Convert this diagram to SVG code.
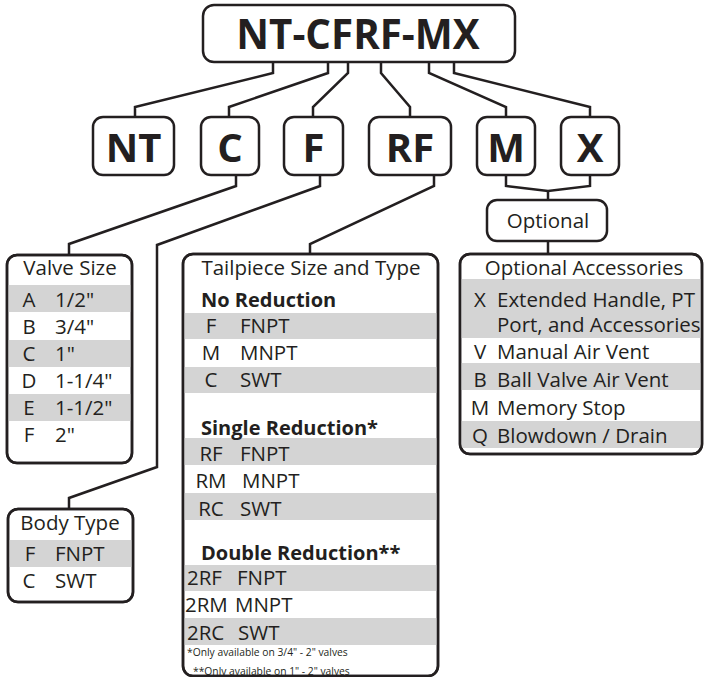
<svg xmlns="http://www.w3.org/2000/svg" width="704" height="677" viewBox="0 0 704 677">
<style>
.box{fill:#fff;stroke:#231f20;stroke-width:2.5}
.frame{fill:none;stroke:#231f20;stroke-width:2.5}
.con{fill:none;stroke:#231f20;stroke-width:2.5;stroke-linejoin:miter}
.sh{fill:#d4d4d4}
text{font-family:"Open Sans","Noto Sans","DejaVu Sans",sans-serif;fill:#231f20}
.big{font-size:40px;font-weight:700;text-anchor:middle}
.t{font-size:20.5px}
.b{font-size:20px;font-weight:700}
.m{text-anchor:middle}
.fn{font-size:10.3px}
</style>
<g id="connectors">
<polyline class="con" points="273,62 273,73 135,107 135,117"/>
<polyline class="con" points="328,62 328,73 229,107 229,117"/>
<polyline class="con" points="348,62 348,73 313,107 313,117"/>
<polyline class="con" points="381,62 381,73 410,107 410,117"/>
<polyline class="con" points="429,62 429,73 506,107 506,117"/>
<polyline class="con" points="454,62 454,73 590,107 590,117"/>
<polyline class="con" points="236,175 236,186 69,244 69,255"/>
<polyline class="con" points="320,175 320,186 157,245 157,467 69,498 69,509"/>
<polyline class="con" points="434,175 434,186 310,244 310,254"/>
<polyline class="con" points="506,175 506,186 548,191 590,186 590,175"/>
<polyline class="con" points="548,191 548,200"/>
<polyline class="con" points="548,241 548,254"/>
</g>
<g id="main">
<rect class="box" x="203" y="5" width="312" height="57" rx="11"/>
<text x="358" y="49" style="font-size:40.3px;font-weight:700;text-anchor:middle">NT-CFRF-MX</text>
</g>
<g id="nt"><rect class="box" x="93" y="117" width="81" height="58" rx="10"/><text class="big" x="133.5" y="162">NT</text></g>
<g id="c"><rect class="box" x="201" y="117" width="58" height="58" rx="10"/><text class="big" x="230" y="162">C</text></g>
<g id="f"><rect class="box" x="284" y="117" width="59" height="58" rx="10"/><text class="big" x="313.5" y="162">F</text></g>
<g id="rf"><rect class="box" x="369" y="117" width="82" height="58" rx="10"/><text class="big" x="410" y="162">RF</text></g>
<g id="m"><rect class="box" x="477" y="117" width="58" height="58" rx="10"/><text class="big" x="506" y="162">M</text></g>
<g id="x"><rect class="box" x="561" y="117" width="58" height="58" rx="10"/><text class="big" x="590" y="162">X</text></g>
<g id="optional">
<rect class="box" x="487" y="200" width="120" height="41" rx="10"/>
<text class="t m" x="548" y="228">Optional</text>
</g>
<g id="valve-size">
<rect class="box" x="7" y="255" width="125" height="208" rx="10"/>
<rect class="sh" x="8" y="285" width="123" height="27"/>
<rect class="sh" x="8" y="340" width="123" height="27"/>
<rect class="sh" x="8" y="394" width="123" height="27"/>
<rect class="frame" x="7" y="255" width="125" height="208" rx="10"/>
<text class="t m" x="70" y="275">Valve Size</text>
<text class="t m" x="29" y="307">A</text><text class="t" x="55" y="307">1/2"</text>
<text class="t m" x="29" y="334">B</text><text class="t" x="55" y="334">3/4"</text>
<text class="t m" x="29" y="361">C</text><text class="t" x="55" y="361">1"</text>
<text class="t m" x="29" y="388">D</text><text class="t" x="55" y="388">1-1/4"</text>
<text class="t m" x="29" y="415">E</text><text class="t" x="55" y="415">1-1/2"</text>
<text class="t m" x="29" y="442">F</text><text class="t" x="55" y="442">2"</text>
</g>
<g id="body-type">
<rect class="box" x="8" y="509" width="125" height="93" rx="10"/>
<rect class="sh" x="9" y="540" width="123" height="27"/>
<rect class="frame" x="8" y="509" width="125" height="93" rx="10"/>
<text class="t m" x="70" y="530">Body Type</text>
<text class="t m" x="30" y="561">F</text><text class="t" x="55" y="561">FNPT</text>
<text class="t m" x="29" y="588">C</text><text class="t" x="55" y="588">SWT</text>
</g>
<g id="tailpiece">
<rect class="box" x="183" y="254" width="255" height="422" rx="10"/>
<rect class="sh" x="184" y="313" width="253" height="26"/>
<rect class="sh" x="184" y="367" width="253" height="26"/>
<rect class="sh" x="184" y="438" width="253" height="27"/>
<rect class="sh" x="184" y="493" width="253" height="27"/>
<rect class="sh" x="184" y="565" width="253" height="26"/>
<rect class="sh" x="184" y="618" width="253" height="27"/>
<rect class="frame" x="183" y="254" width="255" height="422" rx="10"/>
<text class="t m" x="311" y="275">Tailpiece Size and Type</text>
<text class="b" x="201" y="307">No Reduction</text>
<text class="t m" x="211" y="333">F</text><text class="t" x="240" y="333">FNPT</text>
<text class="t m" x="211" y="360">M</text><text class="t" x="240" y="360">MNPT</text>
<text class="t m" x="211" y="387">C</text><text class="t" x="240" y="387">SWT</text>
<text class="b" x="201" y="435">Single Reduction*</text>
<text class="t m" x="211" y="461">RF</text><text class="t" x="240" y="461">FNPT</text>
<text class="t m" x="211" y="488">RM</text><text class="t" x="242" y="488">MNPT</text>
<text class="t m" x="211" y="516">RC</text><text class="t" x="240" y="516">SWT</text>
<text class="b" x="201" y="560">Double Reduction**</text>
<text class="t" x="187" y="585">2RF</text><text class="t" x="237" y="585">FNPT</text>
<text class="t" x="185" y="612">2RM</text><text class="t" x="235" y="612">MNPT</text>
<text class="t" x="187" y="640">2RC</text><text class="t" x="238" y="640">SWT</text>
<text class="fn" x="187" y="656">*Only available on 3/4" - 2" valves</text>
<text class="fn" x="193" y="675">**Only available on 1" - 2" valves</text>
</g>
<g id="accessories">
<rect class="box" x="460" y="254" width="242" height="200" rx="10"/>
<rect class="sh" x="461" y="279" width="240" height="59"/>
<rect class="sh" x="461" y="363" width="240" height="27"/>
<rect class="sh" x="461" y="421" width="240" height="27"/>
<rect class="frame" x="460" y="254" width="242" height="200" rx="10"/>
<text class="t m" x="584" y="275">Optional Accessories</text>
<text class="t m" x="480" y="307">X</text><text class="t" x="497" y="307">Extended Handle, PT</text>
<text class="t" x="497" y="332">Port, and Accessories</text>
<text class="t m" x="480" y="359">V</text><text class="t" x="497" y="359">Manual Air Vent</text>
<text class="t m" x="480" y="387">B</text><text class="t" x="497" y="387">Ball Valve Air Vent</text>
<text class="t m" x="480" y="415">M</text><text class="t" x="497" y="415">Memory Stop</text>
<text class="t m" x="480" y="443">Q</text><text class="t" x="497" y="443">Blowdown / Drain</text>
</g>
</svg>
